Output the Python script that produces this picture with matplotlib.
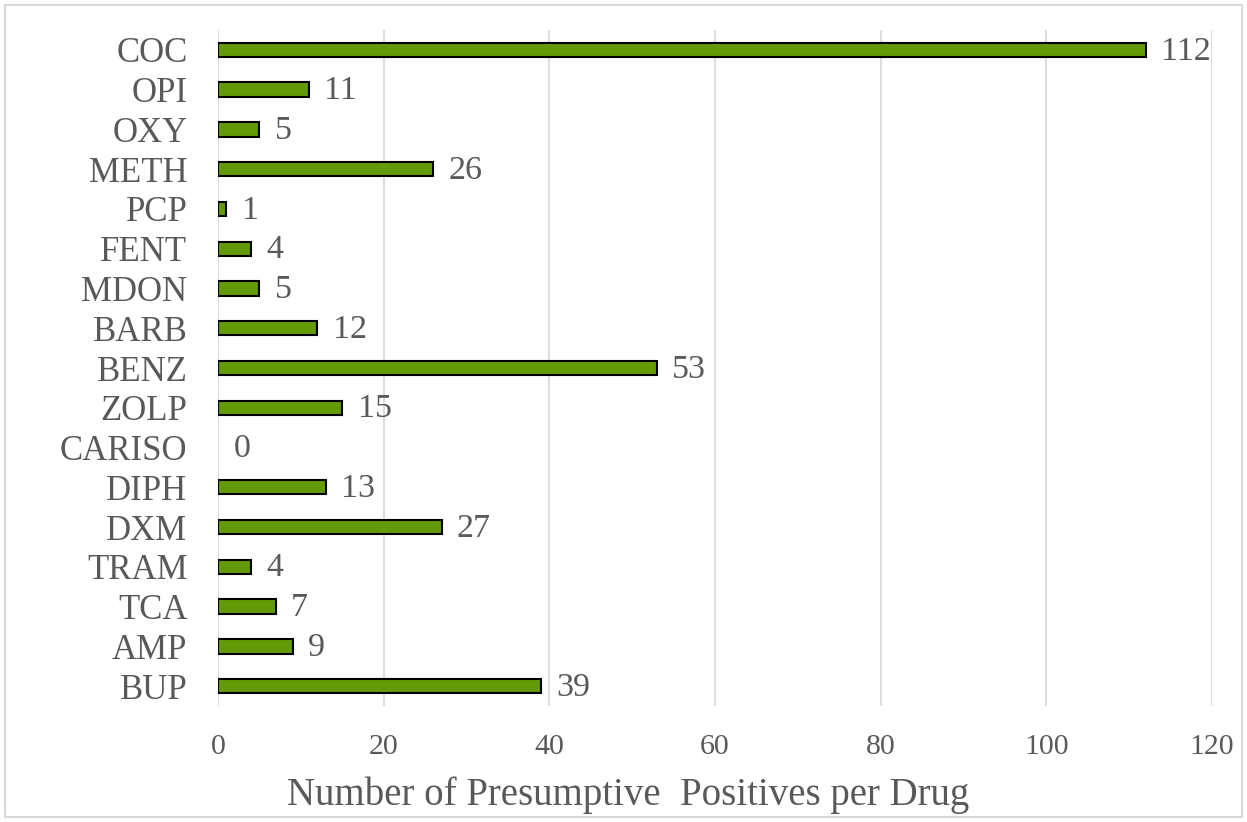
import matplotlib.pyplot as plt
from matplotlib.patches import Rectangle

# Data (top to bottom as shown)
drugs = ['COC', 'OPI', 'OXY', 'METH', 'PCP', 'FENT', 'MDON', 'BARB', 'BENZ',
         'ZOLP', 'CARISO', 'DIPH', 'DXM', 'TRAM', 'TCA', 'AMP', 'BUP']
positives = [112, 11, 5, 26, 1, 4, 5, 12, 53, 15, 0, 13, 27, 4, 7, 9, 39]
x_ticks = [0, 20, 40, 60, 80, 100, 120]

plt.rcParams['font.family'] = ['Liberation Serif', 'DejaVu Serif']
text_color = '#595959'

fig = plt.figure(figsize=(12.47, 8.22), dpi=100)
ax = fig.add_axes([0.1748, 0.1411, 0.9719 - 0.1748, 0.9635 - 0.1411])

ypos = list(range(len(drugs)))
bars = ax.barh(ypos, positives, height=0.36, color='#649a05',
               edgecolor='black', linewidth=1.5, zorder=3)
# a zero-length bar shows no outline
for b, v in zip(bars, positives):
    if v == 0:
        b.set_linewidth(0)

for y, v in zip(ypos, positives):
    ax.annotate(str(v), xy=(v, y), xytext=(11, -1), textcoords='offset points',
                ha='left', va='center', fontsize=24.5, color=text_color)

ax.set_ylim(len(drugs) - 0.5, -0.5)
ax.set_xlim(0, 120)
ax.set_yticks(ypos)
ax.set_yticklabels(drugs)
ax.set_xticks(x_ticks)
ax.tick_params(axis='y', length=0, labelsize=25, labelcolor=text_color, pad=22)
ax.tick_params(axis='x', length=0, labelsize=21.5, labelcolor=text_color, pad=20)
ax.grid(axis='x', color='#d9d9d9', linewidth=1.3, zorder=0)
for s in ax.spines.values():
    s.set_visible(False)

fig.text(0.504, 0.033, 'Number of Presumptive  Positives per Drug', fontsize=28,
         color=text_color, ha='center', va='center')

# light border around the whole figure
fig.patches.append(Rectangle((0.004, 0.006), 0.992, 0.988, transform=fig.transFigure,
                             fill=False, edgecolor='#d9d9d9', linewidth=1.5))

fig.savefig('out.png', dpi=100)
